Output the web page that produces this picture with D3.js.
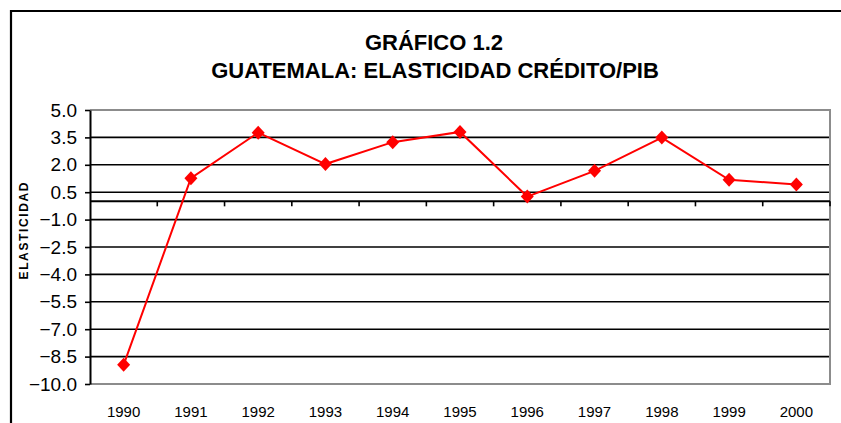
<!DOCTYPE html>
<html>
<head>
<meta charset="utf-8">
<script src="https://cdn.jsdelivr.net/npm/d3@7"></script>
<style>
  html, body { margin: 0; padding: 0; background: #fff; }
  svg { display: block; }
  text { font-family: "Liberation Sans", Arial, sans-serif; }
</style>
</head>
<body>
<svg id="chart" width="841" height="423"></svg>
<script>
const years = ["1990","1991","1992","1993","1994","1995","1996","1997","1998","1999","2000"];
const elasticity = [-8.95, 1.27, 3.76, 2.04, 3.24, 3.8, 0.26, 1.67, 3.49, 1.18, 0.92];
const yTicks = [5.0, 3.5, 2.0, 0.5, -1.0, -2.5, -4.0, -5.5, -7.0, -8.5, -10.0];
const titleLines = ["GRÁFICO 1.2", "GUATEMALA: ELASTICIDAD CRÉDITO/PIB"];
const yAxisTitle = "ELASTICIDAD";

const svg = d3.select("#chart");
const L = 90, R = 830, T = 110, B = 384;

// outer frame
svg.append("path")
  .attr("d", `M11,423 L11,11 L841,11`)
  .attr("fill", "none").attr("stroke", "#000").attr("stroke-width", 2.2);

// titles
svg.append("text").attr("x", 434).attr("y", 50).attr("text-anchor", "middle")
  .attr("font-size", 22).attr("font-weight", "bold").text(titleLines[0]);
svg.append("text").attr("x", 435).attr("y", 78).attr("text-anchor", "middle")
  .attr("font-size", 22).attr("font-weight", "bold").text(titleLines[1]);

const x = d3.scaleBand().domain(years).range([L, R]).padding(0);
const y = d3.scaleLinear().domain([-10, 5]).range([B, T]);

// gridlines (interior)
svg.append("g").selectAll("line")
  .data(yTicks.filter(v => v !== 5 && v !== -10))
  .join("line")
  .attr("x1", L).attr("x2", R)
  .attr("y1", d => y(d)).attr("y2", d => y(d))
  .attr("stroke", "#000").attr("stroke-width", 1.6);

// plot area border (gray top/right/bottom)
svg.append("path")
  .attr("d", `M${L},${y(5)} L${R},${y(5)} L${R},${y(-10)} L${L},${y(-10)}`)
  .attr("fill", "none").attr("stroke", "#8c8c8c").attr("stroke-width", 2);

// y axis
const yAxis = d3.axisLeft(y).tickValues(yTicks).tickFormat(d3.format(".1f"))
  .tickSizeInner(5).tickSizeOuter(0).tickPadding(8);
const gy = svg.append("g").attr("transform", `translate(${L},0)`).call(yAxis);
gy.select(".domain").attr("stroke", "#000").attr("stroke-width", 2);
gy.selectAll(".tick line").attr("stroke", "#000").attr("stroke-width", 1.6);
gy.selectAll(".tick text").attr("font-size", 19).attr("fill", "#000")
  .attr("font-family", "'Liberation Sans', Arial, sans-serif");

// x axis at zero: ticks between categories
const y0 = y(0);
svg.append("line").attr("x1", L).attr("x2", R).attr("y1", y0).attr("y2", y0)
  .attr("stroke", "#000").attr("stroke-width", 2);
const boundaries = years.map(d => x(d)).concat([x(years[years.length - 1]) + x.bandwidth()]);
svg.append("g").selectAll("line").data(boundaries.slice(1)).join("line")
  .attr("x1", d => d).attr("x2", d => d).attr("y1", y0).attr("y2", y0 + 5)
  .attr("stroke", "#000").attr("stroke-width", 1.6);

// x labels at bottom
svg.append("g").selectAll("text").data(years).join("text")
  .attr("x", d => x(d) + x.bandwidth() / 2).attr("y", 417)
  .attr("text-anchor", "middle").attr("font-size", 15).attr("fill", "#000")
  .text(d => d);

// y axis title
svg.append("text")
  .attr("transform", `translate(28,231) rotate(-90)`)
  .attr("text-anchor", "middle").attr("font-size", 12).attr("font-weight", "bold")
  .attr("textLength", 97).attr("lengthAdjust", "spacing")
  .text(yAxisTitle);

// series
const cx = d => x(d) + x.bandwidth() / 2;
const line = d3.line().x((d, i) => cx(years[i])).y(d => y(d));
svg.append("path").datum(elasticity).attr("d", line)
  .attr("fill", "none").attr("stroke", "#ff0000").attr("stroke-width", 2);

svg.append("g").selectAll("path").data(elasticity).join("path")
  .attr("transform", (d, i) => `translate(${cx(years[i])},${y(d)})`)
  .attr("d", "M0,-7 L6.5,0 L0,7 L-6.5,0 Z")
  .attr("fill", "#ff0000");
</script>
</body>
</html>
